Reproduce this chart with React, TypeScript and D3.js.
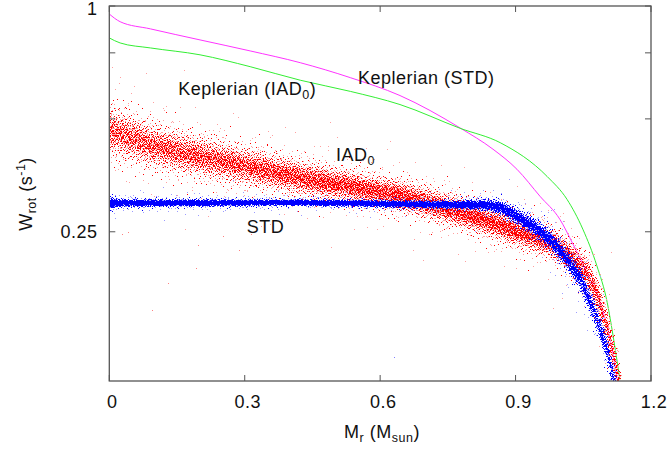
import React, { useMemo } from 'react';
import * as d3 from 'd3';

// ---------- data ----------
const xTickValues = [0, 0.3, 0.6, 0.9, 1.2];
const xTickLabels = ['0', '0.3', '0.6', '0.9', '1.2'];
const yTickValues = [0.25, 0.5, 0.75, 1];
const yTickLabels = ['0.25', '', '', '1'];

// Keplerian (STD) – magenta line
const kepStdMass = [0, 0.024, 0.091, 0.201, 0.312, 0.423, 0.534, 0.644, 0.777, 0.85, 0.903, 0.954, 0.998, 1.027, 1.058, 1.087, 1.109, 1.125];
const kepStdW = [0.952, 0.908, 0.869, 0.812, 0.759, 0.706, 0.644, 0.577, 0.473, 0.415, 0.367, 0.311, 0.27, 0.232, 0.195, 0.162, 0.13, 0.101];

// Keplerian (IAD0) – green line
const kepIadMass = [0, 0.024, 0.091, 0.201, 0.312, 0.423, 0.534, 0.644, 0.777, 0.866, 0.97, 1.014, 1.049, 1.08, 1.103, 1.116, 1.131];
const kepIadW = [0.822, 0.797, 0.773, 0.741, 0.689, 0.634, 0.592, 0.546, 0.472, 0.432, 0.351, 0.305, 0.254, 0.203, 0.162, 0.132, 0.101];

// IAD0 particles – red cloud (centre line and dispersion in decades)
const iadMass = [0, 0.091, 0.201, 0.312, 0.423, 0.534, 0.644, 0.755, 0.828, 0.903, 0.976, 1.027, 1.058, 1.08, 1.094, 1.109, 1.125, 1.135];
const iadW = [0.468, 0.427, 0.397, 0.373, 0.349, 0.331, 0.313, 0.287, 0.27, 0.251, 0.235, 0.212, 0.193, 0.169, 0.15, 0.127, 0.103, 0.09];
const iadSpread = [0.03, 0.026, 0.024, 0.022, 0.02, 0.019, 0.018, 0.018, 0.018, 0.018, 0.018, 0.019, 0.02, 0.022, 0.024, 0.026, 0.026, 0.026];

// STD particles – blue cloud
const stdMass = [0, 0.02, 0.423, 0.755, 0.828, 0.866, 0.903, 0.939, 0.976, 1.014, 1.043, 1.065, 1.087, 1.103, 1.116, 1.125];
const stdW = [0.299, 0.299, 0.3, 0.296, 0.296, 0.291, 0.275, 0.259, 0.239, 0.211, 0.187, 0.162, 0.138, 0.12, 0.101, 0.092];
const stdSpread = [0.008, 0.004, 0.003, 0.004, 0.006, 0.008, 0.009, 0.01, 0.011, 0.012, 0.013, 0.014, 0.015, 0.016, 0.017, 0.017];

// a few isolated particles far from the bands
const strayRedMass = [0.029, 0.042, 0.094, 0.131, 0.192, 0.196, 0.251, 0.288, 0.314];
const strayRedW = [0.247, 0.25, 0.155, 0.183, 0.2, 0.23, 0.244, 0.224, 0.247];
const strayBlueMass = [0.631];
const strayBlueW = [0.116];

// ---------- layout ----------
const W = 667;
const H = 450;
const L = 109.3, R = 651, T = 6, B = 381;
const FONT = 'Liberation Sans, Arial, Helvetica, sans-serif';

const x = d3.scaleLinear().domain([0, 1.2]).range([L, R]);
const y = d3.scaleLog().domain([0.1, 1]).range([B, T]);

// Halton low-discrepancy sequence (deterministic placement of particles)
function halton(i: number, base: number) {
  let f = 1, r = 0, n = i;
  while (n > 0) {
    f /= base;
    r += f * (n % base);
    n = Math.floor(n / base);
  }
  return r;
}

function cloud(mass: number[], w: number[], spread: number[], n: number, xMax: number,
  tailFrac: number, tailMult: number, lightFrac: number, offset: number) {
  const centre = d3.scaleLinear().domain(mass).range(w.map(Math.log10)).clamp(true);
  const sig = d3.scaleLinear().domain(mass).range(spread).clamp(true);
  let dark = '';
  let light = '';
  for (let k = 1; k <= n; k++) {
    const i = k + offset;
    const u = halton(i, 2);
    const v = Math.min(1 - 1e-4, Math.max(1e-4, halton(i, 3)));
    const t = halton(i, 5);
    const s = halton(i, 7);
    const m = u * xMax;
    let z = 0.6 * Math.log(v / (1 - v));
    if (t < tailFrac) z *= tailMult;
    const lw = centre(m) + z * sig(m);
    const px = Math.round(x(m));
    const py = Math.round(y(Math.pow(10, lw)));
    if (px < L || px > R - 1 || py < T || py > B - 1) continue;
    const seg = `M${px},${py}h1v1h-1z`;
    if (s < lightFrac || t < tailFrac) light += seg; else dark += seg;
  }
  return { dark, light };
}

export default function App() {
  const red = useMemo(() => cloud(iadMass, iadW, iadSpread, 13000, 1.135, 0.05, 2.6, 0.45, 17), []);
  const blue = useMemo(() => cloud(stdMass, stdW, stdSpread, 13000, 1.125, 0.05, 3.5, 0.3, 40001), []);

  const line = d3.line<[number, number]>()
    .x(d => x(d[0]))
    .y(d => y(d[1]))
    .curve(d3.curveMonotoneX);
  const kepStd = line(kepStdMass.map((m, i) => [m, kepStdW[i]]) as [number, number][]) || '';
  const kepIad = line(kepIadMass.map((m, i) => [m, kepIadW[i]]) as [number, number][]) || '';

  const axisColor = '#555';
  const fs = 18;
  const ls = 0.5;
  const sub = 12.5;

  return (
    <svg width={W} height={H} style={{ position: 'absolute', left: 0, top: 0, background: '#fff' }}
      fontFamily={FONT}>
      <defs>
        <clipPath id="plot">
          <rect x={L} y={T} width={R - L} height={B - T} />
        </clipPath>
      </defs>
      <rect x={0} y={0} width={W} height={H} fill="#fff" />

      <g clipPath="url(#plot)">
        <path d={kepStd} fill="none" stroke="#ff33ff" strokeWidth={1} />
        <path d={kepIad} fill="none" stroke="#33ee33" strokeWidth={1} />
        <path d={red.light} fill="#ffa0a0" shapeRendering="crispEdges" />
        <path d={red.dark} fill="#ff0000" shapeRendering="crispEdges" />
        <path d={blue.light} fill="#9c9cff" shapeRendering="crispEdges" />
        <path d={blue.dark} fill="#0000ff" shapeRendering="crispEdges" />
        {strayRedMass.map((m, i) => (
          <rect key={'sr' + i} x={Math.round(x(m))} y={Math.round(y(strayRedW[i]))} width={1} height={1} fill="#ff8080" />
        ))}
        {strayBlueMass.map((m, i) => (
          <rect key={'sb' + i} x={Math.round(x(m))} y={Math.round(y(strayBlueW[i]))} width={1} height={1} fill="#8080ff" />
        ))}
      </g>

      {/* frame */}
      <rect x={L} y={T} width={R - L} height={B - T} fill="none" stroke={axisColor} strokeWidth={1.3} />

      {/* x ticks */}
      {xTickValues.map((v, i) => (
        <g key={'xt' + i}>
          <line x1={x(v)} x2={x(v)} y1={B} y2={B - 6} stroke={axisColor} strokeWidth={1} />
          <line x1={x(v)} x2={x(v)} y1={T} y2={T + 6} stroke={axisColor} strokeWidth={1} />
          <text x={x(v) + 3} y={407.5} textAnchor="middle" fontSize={fs} letterSpacing={ls} fill="#111">{xTickLabels[i]}</text>
        </g>
      ))}

      {/* y ticks */}
      {yTickValues.map((v, i) => (
        <g key={'yt' + i}>
          <line x1={L} x2={L + 6} y1={y(v)} y2={y(v)} stroke={axisColor} strokeWidth={1} />
          <line x1={R} x2={R - 6} y1={y(v)} y2={y(v)} stroke={axisColor} strokeWidth={1} />
          {yTickLabels[i] && (
            <text x={97.5} y={Math.max(y(v) + 6.6, 14.5)} textAnchor="end" fontSize={fs} letterSpacing={ls} fill="#111">{yTickLabels[i]}</text>
          )}
        </g>
      ))}

      {/* axis titles */}
      <text x={382} y={438} textAnchor="middle" fontSize={fs} letterSpacing={ls} fill="#111">
        M<tspan fontSize={sub} dy={4}>r</tspan><tspan dy={-4}> (M</tspan><tspan fontSize={sub} dy={4}>sun</tspan><tspan dy={-4}>)</tspan>
      </text>
      <text transform={`translate(32,194) rotate(-90)`} textAnchor="middle" fontSize={fs} letterSpacing={ls} fill="#111">
        W<tspan fontSize={sub} dy={4}>rot</tspan><tspan dy={-4}> (s</tspan><tspan fontSize={sub} dy={-7}>-1</tspan><tspan dy={7}>)</tspan>
      </text>

      {/* curve labels */}
      <text x={358} y={83.5} fontSize={fs} letterSpacing={ls} fill="#111">Keplerian (STD)</text>
      <text x={178.3} y={94.5} fontSize={fs} letterSpacing={ls} fill="#111">
        Keplerian (IAD<tspan fontSize={sub} dy={4}>0</tspan><tspan dy={-4}>)</tspan>
      </text>
      <text x={336} y={160.5} fontSize={fs} letterSpacing={ls} fill="#111">
        IAD<tspan fontSize={sub} dy={4}>0</tspan>
      </text>
      <text x={246.7} y={232.7} fontSize={fs} letterSpacing={ls} fill="#111">STD</text>
    </svg>
  );
}
